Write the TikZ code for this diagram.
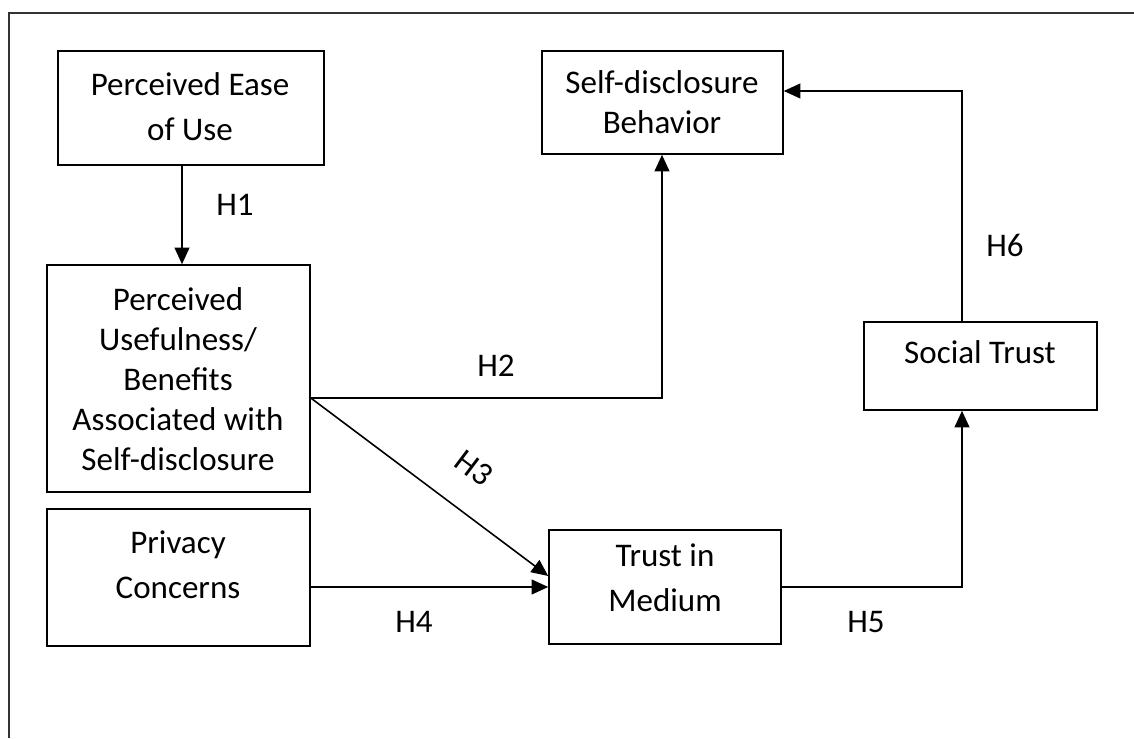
\documentclass[tikz,border=0pt]{standalone}
\usepackage{fontspec}
\setmainfont{Carlito}
\usetikzlibrary{calc,positioning,arrows.meta}

\begin{document}
\begin{tikzpicture}[x=0.02cm,y=-0.02cm,
    box/.style={draw, line width=0.9pt, inner sep=0pt},
    lbl/.style={font=\fontsize{18.8}{25.6}\selectfont, align=center, inner sep=0pt},
    lbltight/.style={font=\fontsize{18.8}{22.8}\selectfont, align=center, inner sep=0pt},
    hyp/.style={font=\fontsize{18.8}{22}\selectfont, inner sep=0pt},
    arr/.style={line width=0.9pt, -{Triangle[length=9.5pt,width=8.5pt]}}]
    \useasboundingbox (0,0) rectangle (1134,738);
    \draw[line width=1pt, black!80] (9,738) -- (9,13) -- (1134,13);

    % boxes
    \node[box, minimum width=266*0.02cm, minimum height=114*0.02cm] (peou) at (191,108) {};
    \node[box, minimum width=263*0.02cm, minimum height=227*0.02cm] (pu) at (178.5,378.5) {};
    \node[box, minimum width=263*0.02cm, minimum height=137*0.02cm] (pc) at (178.5,577.5) {};
    \node[box, minimum width=241*0.02cm, minimum height=103*0.02cm] (sdb) at (662.5,102.5) {};
    \node[box, minimum width=232*0.02cm, minimum height=114*0.02cm] (tim) at (665,587) {};
    \node[box, minimum width=233*0.02cm, minimum height=88*0.02cm] (st) at (980.5,366) {};

    % texts
    \node[lbl] (peoutxt) at (190,107) {Perceived Ease\\of Use};
    \node[lbltight] (putxt) at (178,379) {Perceived\\Usefulness/\\Benefits\\Associated with\\Self-disclosure};
    \node[lbl] (pctxt) at (178,565) {Privacy\\Concerns};
    \node[lbltight] (sdbtxt) at (662,102) {Self-disclosure\\Behavior};
    \node[lbl] (timtxt) at (665,578) {Trust in\\Medium};
    \node[lbl] (sttxt) at (980,352) {Social Trust};

    % bends
    \coordinate (a1) at (182,0);
    \coordinate (kink2) at (662,398);
    \coordinate (kink5) at (962,587);
    \coordinate (kink6) at (962,91);

    % paths
    \draw[arr] (peou.south -| a1) -- (pu.north -| a1);
    \draw[arr] (pu.east |- kink2) -- (kink2) -- (kink2 |- sdb.south);
    \draw[arr] (pu.east |- kink2) -- ($(tim.west)+(0,-11)$);
    \draw[arr] (pc.east |- tim.west) -- (tim.west);
    \draw[arr] (tim.east) -- (kink5) -- (kink5 |- st.south);
    \draw[arr] (kink5 |- st.north) -- (kink6) -- (kink6 -| sdb.east);

    \node[hyp] (h1) at (235,205) {H1};
    \node[hyp] (h2) at (496,366) {H2};
    \node[hyp, rotate=-37] (h3) at (474,468) {H3};
    \node[hyp] (h4) at (414,622) {H4};
    \node[hyp] (h5) at (866,622) {H5};
    \node[hyp] (h6) at (1005,245) {H6};
\end{tikzpicture}
\end{document}
